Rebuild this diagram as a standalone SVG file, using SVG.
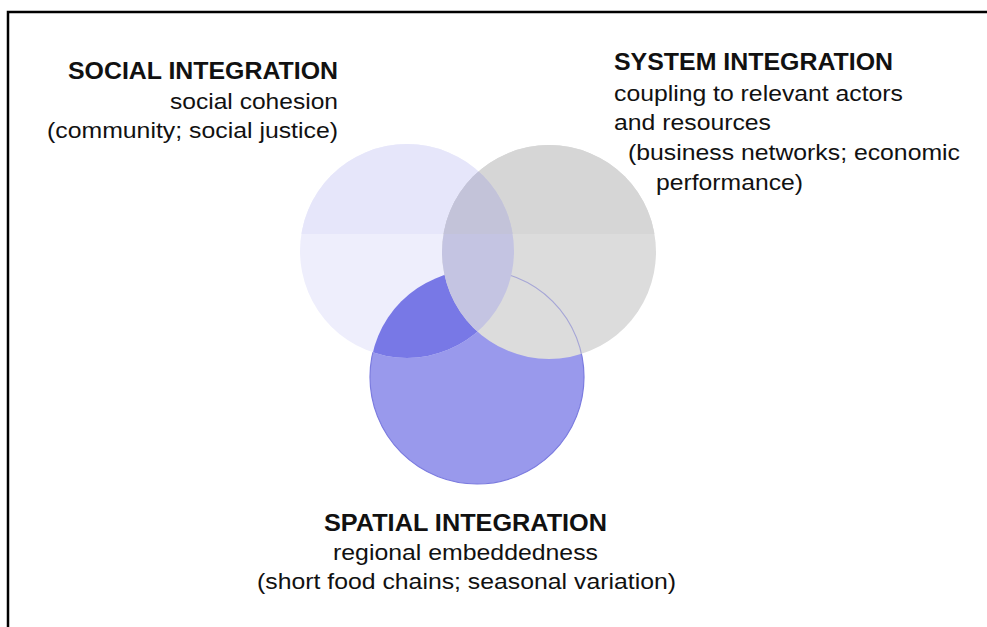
<svg xmlns="http://www.w3.org/2000/svg" width="987" height="627" viewBox="0 0 987 627">
<style>
.t{font-family:"Liberation Sans",Arial,sans-serif;fill:#111}
.b{font-weight:bold;font-size:23px}
.r{font-size:22.5px}
</style>
<defs>
<clipPath id="cL"><circle cx="407" cy="251" r="107"/></clipPath>
<clipPath id="cR"><circle cx="549" cy="252" r="107"/></clipPath>
<clipPath id="cB"><circle cx="477" cy="377" r="107"/></clipPath>
</defs>
<rect width="987" height="627" fill="#fff"/>
<path d="M8 627V12H987" fill="none" stroke="#000" stroke-width="2.5"/>
<g id="spatial-circle">
<circle cx="477" cy="377" r="107" fill="#9999ec" stroke="#7b7bdf" stroke-width="1.2"/>
</g>
<g id="social-circle">
<circle cx="407" cy="251" r="107" fill="#eeeefc"/>
<rect x="290" y="130" width="240" height="104" fill="#e6e6fa" clip-path="url(#cL)"/>
<g clip-path="url(#cL)"><circle cx="477" cy="377" r="107" fill="#7878e6"/></g>
</g>
<g id="system-circle">
<circle cx="549" cy="252" r="107" fill="#dcdcdc"/>
<rect x="430" y="130" width="240" height="104" fill="#d6d6d6" clip-path="url(#cR)"/>
<g clip-path="url(#cR)"><circle cx="477" cy="377" r="107" fill="none" stroke="#a6a6d6" stroke-width="1.2"/></g>
<g clip-path="url(#cR)">
<circle cx="407" cy="251" r="107" fill="#c4c4e2"/>
<rect x="290" y="130" width="240" height="104" fill="#c3c3d9" clip-path="url(#cL)"/>
</g>
</g>
<g id="connectors"/>
<g id="social-label">
<text class="t b" x="68" y="79" textLength="270" lengthAdjust="spacingAndGlyphs">SOCIAL INTEGRATION</text>
<text class="t r" x="170" y="109" textLength="168" lengthAdjust="spacingAndGlyphs">social cohesion</text>
<text class="t r" x="47" y="138" textLength="291" lengthAdjust="spacingAndGlyphs">(community; social justice)</text>
</g>
<g id="system-label">
<text class="t b" x="614" y="70" textLength="279" lengthAdjust="spacingAndGlyphs">SYSTEM INTEGRATION</text>
<text class="t r" x="614" y="101" textLength="289" lengthAdjust="spacingAndGlyphs">coupling to relevant actors</text>
<text class="t r" x="614" y="130" textLength="157" lengthAdjust="spacingAndGlyphs">and resources</text>
<text class="t r" x="628" y="160" textLength="332" lengthAdjust="spacingAndGlyphs">(business networks; economic</text>
<text class="t r" x="656" y="190" textLength="147" lengthAdjust="spacingAndGlyphs">performance)</text>
</g>
<g id="spatial-label">
<text class="t b" x="324" y="531" textLength="283" lengthAdjust="spacingAndGlyphs">SPATIAL INTEGRATION</text>
<text class="t r" x="333" y="560" textLength="265" lengthAdjust="spacingAndGlyphs">regional embeddedness</text>
<text class="t r" x="257" y="589" textLength="419" lengthAdjust="spacingAndGlyphs">(short food chains; seasonal variation)</text>
</g>
</svg>
